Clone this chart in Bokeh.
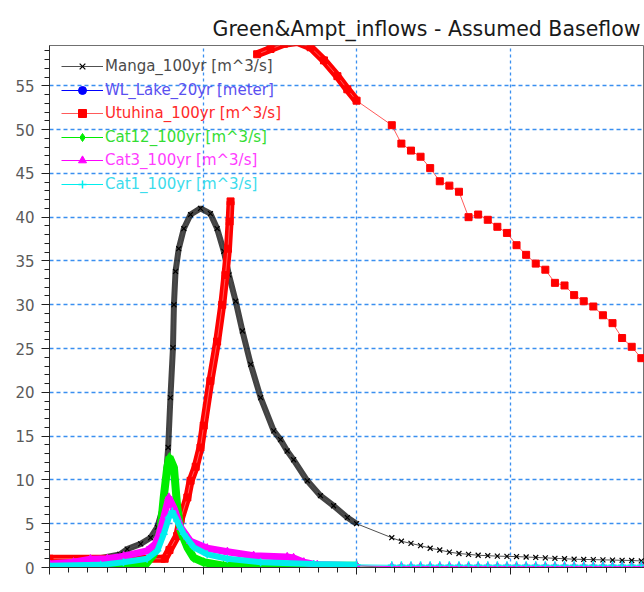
import math
from bokeh.plotting import figure
from bokeh.models import (Range1d, Legend, LegendItem, SingleIntervalTicker,
                          CustomJSTickFormatter, Label)
from bokeh.embed import file_html
from bokeh.resources import INLINE

FONT = "DejaVu Sans"
NAN = math.nan

# ---- hydrograph data (time in hours, flow in m^3/s) ----
# 3-hourly tail shared by all series
tail_t = [107, 110, 113, 116, 119, 122, 125, 128, 131, 134, 137, 140, 143, 146,
          149, 152, 155, 158, 161, 164, 167, 170, 173, 176, 179, 182, 185]

manga_t = [0, 15, 22, 24.3, 28.5, 31.6, 33.7, 35.2, 36.3, 37.1, 37.8, 38.6, 38.9,
           39.4, 40.4, 42.0, 44.1, 47.2, 50.3, 52.4, 54.5, 56.1, 58.2, 60.3, 62.9,
           66.0, 70.1, 72.2, 74.3, 76.3, 80.6, 84.7, 88.8, 93.1, 96]
manga_v = [0.6, 1.0, 1.5, 2.1, 2.7, 3.4, 4.6, 6.5, 9.9, 13.7, 19.4, 25.1, 30.0,
           33.8, 36.4, 38.7, 40.3, 41.0, 40.4, 38.7, 36.1, 33.4, 30.4, 27.0, 23.2,
           19.4, 15.6, 14.6, 13.3, 12.3, 9.9, 8.2, 7.05, 5.7, 5.0]
manga_tail = [3.4, 3.0, 2.75, 2.5, 2.2, 2.0, 1.75, 1.6, 1.5, 1.4, 1.35, 1.3, 1.27,
              1.25, 1.2, 1.15, 1.1, 1.05, 1.0, 0.95, 0.92, 0.9, 0.87, 0.85, 0.82,
              0.8, 0.75]

# lake level (metres) lies outside the flow axis: no readable points
wl_lake_t = [0]
wl_lake_v = [NAN]

utuhina_t = [0, 36, 37.5, 39.9, 41.0, 43.1, 44.1, 45.7, 47.2, 48.2, 50.3, 52.4,
             54.0, 55.0, 55.8, 56.3, 56.6, 60.0, 64.9, 69.1, 73.3, 77.5, 81.6,
             85.8, 90.0, 93.1, 96]
utuhina_v = [1.0, 1.0, 2.0, 3.6, 5.5, 8.0, 9.9, 11.5, 13.7, 16.2, 21.3, 25.8,
             30.0, 33.4, 36.4, 39.5, 41.8, NAN, 58.6, 59.2, 59.8, 60.0, 59.4,
             57.9, 56.1, 54.6, 53.3]
utuhina_tail = [50.5, 48.4, 47.6, 46.9, 45.6, 44.1, 43.6, 42.9, 40.0, 40.3, 39.7,
                38.9, 38.2, 36.8, 35.7, 34.7, 34.0, 32.5, 32.2, 31.1, 30.4, 29.8,
                28.8, 27.9, 26.2, 25.2, 23.9]

cat12_t = [0, 30, 32.6, 34.7, 35.7, 36.8, 37.5, 38.9, 39.9, 41.0, 43.1, 45.1,
           48.2, 54.4, 96]
cat12_v = [0.1, 0.3, 1.5, 4.2, 8.0, 11.4, 12.6, 11.4, 7.0, 4.2, 2.3, 1.1, 0.6,
           0.2, 0.2]
cat12_tail = [0.0, 0.0, 0.0, 0.0, 0.0, 0.0, 0.0, 0.0, 0.0, 0.0, 0.0, 0.0, 0.0,
              0.0, 0.0, 0.0, 0.0, 0.0, 0.0, 0.0, 0.0, 0.0, 0.0, 0.0, 0.0, 0.0, 0.0]

cat3_t = [0, 7.5, 12.8, 18.1, 23.2, 30.5, 33.1, 34.1, 35.7, 37.3, 38.9, 41.0,
          43.1, 44.1, 49.3, 55.6, 63.8, 74.3, 76.3, 79.5, 83.7, 96]
cat3_v = [0.4, 0.6, 0.95, 1.0, 1.3, 1.9, 2.7, 3.6, 5.7, 8.0, 6.8, 4.6, 3.5, 3.0,
          2.2, 1.8, 1.35, 1.2, 1.1, 0.6, 0.3, 0.2]
cat3_tail = [0.1, 0.1, 0.1, 0.1, 0.1, 0.1, 0.1, 0.1, 0.1, 0.1, 0.1, 0.1, 0.1,
             0.1, 0.1, 0.1, 0.1, 0.1, 0.1, 0.1, 0.1, 0.1, 0.1, 0.1, 0.1, 0.1, 0.1]

cat1_t = [0, 16, 23.1, 30.5, 33.7, 35.7, 37.3, 38.4, 39.9, 42.0, 45.1, 49.3,
          55.6, 66.0, 82.6, 96]
cat1_v = [0.2, 0.3, 0.6, 1.0, 1.9, 3.8, 5.7, 6.4, 5.3, 3.8, 2.3, 1.5, 1.0, 0.6,
          0.4, 0.3]
cat1_tail = [0.25, 0.25, 0.25, 0.25, 0.25, 0.25, 0.25, 0.25, 0.25, 0.25, 0.25,
             0.25, 0.25, 0.25, 0.25, 0.25, 0.25, 0.25, 0.25, 0.25, 0.25, 0.25,
             0.25, 0.25, 0.25, 0.25, 0.25]

series_labels = ["Manga_100yr [m^3/s]", "WL_Lake_20yr [meter]",
                 "Utuhina_100yr [m^3/s]", "Cat12_100yr [m^3/s]",
                 "Cat3_100yr [m^3/s]", "Cat1_100yr [m^3/s]"]

# ---- figure ----
p = figure(width=644, height=592, output_backend="svg", toolbar_location=None,
           x_range=Range1d(0, 186), y_range=Range1d(0, 59.6),
           min_border_left=49, min_border_right=0, min_border_top=45,
           min_border_bottom=25)
p.background_fill_color = "white"
p.border_fill_color = "white"
p.outline_line_color = "#707070"

p.title.text = "Green&Ampt_inflows - Assumed Baseflow"
p.title.text_font = FONT
p.title.text_font_size = "20.5px"
p.title.text_font_style = "normal"
p.title.text_color = "#1a1a1a"
p.title.align = "left"
p.title.offset = 163

p.yaxis.ticker = SingleIntervalTicker(interval=5, num_minor_ticks=5)
p.xaxis.ticker = SingleIntervalTicker(interval=48, num_minor_ticks=8)
for ax in (p.xaxis, p.yaxis):
    ax.axis_line_color = "#303030"
    ax.major_tick_line_color = "#202020"
    ax.minor_tick_line_color = "#202020"
    ax.major_tick_in = 0
    ax.minor_tick_in = 0
p.yaxis.major_tick_out = 8
p.yaxis.minor_tick_out = 5
p.yaxis.major_label_standoff = 7
p.yaxis.major_label_text_font = FONT
p.yaxis.major_label_text_font_size = "15px"
p.yaxis.major_label_text_color = "#5a5a5a"
p.xaxis.major_tick_out = 7
p.xaxis.minor_tick_out = 5
p.xaxis.formatter = CustomJSTickFormatter(code="return ''")
p.xaxis.major_label_text_font_size = "1px"

for g in (p.xgrid, p.ygrid):
    g.grid_line_color = "#3a8ff0"
    g.grid_line_width = 1.3
p.ygrid.grid_line_dash = "4 3"
p.xgrid.grid_line_dash = "3 3"


def series(t, v, tail, color, band_color, band_width, band_alpha, thin_color,
           marker, msize, fill=True, mline=1.0):
    if band_width:
        p.line(t, v, line_color=band_color, line_width=band_width,
               line_alpha=band_alpha)
    all_t = t + (tail_t if tail else [])
    all_v = v + (tail if tail else [])
    thin = p.line(all_t, all_v, line_color=thin_color, line_width=1)
    pts = p.scatter(all_t, all_v, marker=marker, size=msize,
                    line_color=color, line_width=mline,
                    fill_color=color if fill else None)
    return [thin, pts]


r_manga = series(manga_t, manga_v, manga_tail, "#000000", "#141414", 6, 0.8,
                 "#505050", "x", 7, fill=False, mline=1.2)
r_wl = series(wl_lake_t, wl_lake_v, None, "#0000ff", "#0000ff", 0, 1,
              "#0000ff", "circle", 6)
r_utu = series(utuhina_t, utuhina_v, utuhina_tail, "#ff0000", "#ff0000", 8, 1,
               "#ff5a5a", "square", 7)
r_c12 = series(cat12_t, cat12_v, cat12_tail, "#00ee00", "#00ee00", 8, 1,
               "#00ee00", "diamond", 9)
r_c3 = series(cat3_t, cat3_v, cat3_tail, "#ff00ff", "#ff00ff", 7, 1,
              "#ff00ff", "triangle", 8)
r_c1 = series(cat1_t, cat1_v, cat1_tail, "#00eeee", "#00eeee", 6, 1,
              "#00eeee", "cross", 8, fill=False, mline=1.5)

# cursor box at the start of the record, over the axis corner
cursor = Label(x=manga_t[0], y=0, text="00", text_font=FONT,
               text_font_size="9px", text_color="#ffffff", text_alpha=0.0,
               padding=2, anchor="center",
               border_line_color="#ff0000", border_line_width=2,
               border_line_alpha=1.0,
               background_fill_color="#ffffff", background_fill_alpha=0.0)
p.add_layout(cursor)

# one legend per series so each label keeps its series colour
label_colors = ["#4a4a4a", "#5a50f0", "#ff2a2a", "#33dd33", "#ff3cff", "#3cdcec"]
renderers = [r_manga, r_wl, r_utu, r_c12, r_c3, r_c1]
row_bottoms = [491, 467.5, 444, 420.5, 397, 373.5]
for lab, col, rs, yb in zip(series_labels, label_colors, renderers, row_bottoms):
    leg = Legend(items=[LegendItem(label=lab, renderers=rs)],
                 location=(12, yb), label_text_color=col,
                 label_text_font=FONT, label_text_font_size="15px",
                 background_fill_alpha=0, border_line_color=None,
                 padding=0, margin=0, glyph_width=42, glyph_height=20,
                 label_height=20, label_standoff=2, spacing=0)
    p.add_layout(leg)

open("out.html", "w").write(file_html(p, INLINE))
